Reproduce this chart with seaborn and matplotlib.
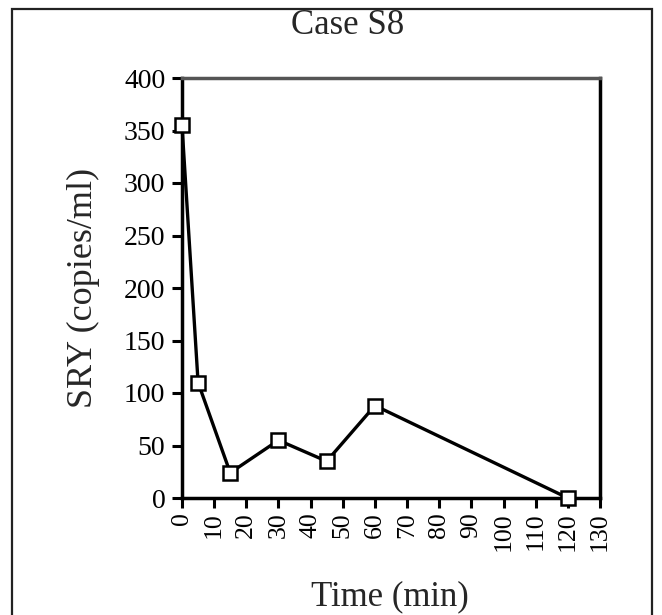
import matplotlib
matplotlib.use("Agg")
import matplotlib.pyplot as plt
import matplotlib.patches as mpatches
import seaborn as sns
import pandas as pd

time_min = [0, 5, 15, 30, 45, 60, 120]
sry_copies = [355, 110, 24, 55, 35, 88, 0]
x_ticks = list(range(0, 131, 10))
y_ticks = list(range(0, 401, 50))

sns.set_style("ticks")
plt.rcParams['font.family'] = ['Liberation Serif', 'DejaVu Serif']

W, H = 662, 615
fig = plt.figure(figsize=(W / 100, H / 100), dpi=100)
ax = fig.add_axes([182 / W, 1 - 498 / H, (600 - 182) / W, (498 - 78) / H])

df = pd.DataFrame({"Time": time_min, "SRY": sry_copies})
sns.lineplot(data=df, x="Time", y="SRY", ax=ax, color="black", linewidth=2.4,
             marker="s", markersize=9.5, markerfacecolor="white",
             markeredgecolor="black", markeredgewidth=1.8, zorder=3, clip_on=False)

ax.set_xlim(0, 130)
ax.set_ylim(0, 400)
ax.set_xticks(x_ticks)
ax.set_yticks(y_ticks)
ax.set_xticklabels([str(v) for v in x_ticks], rotation=90, fontsize=18.5)
ax.set_yticklabels([str(v) for v in y_ticks], fontsize=20)
ax.tick_params(axis="both", direction="out", length=7, width=2.2, colors="black")
ax.tick_params(axis="y", pad=5)
ax.tick_params(axis="x", pad=3)
ax.tick_params(top=False, right=False)
for s in ax.spines.values():
    s.set_visible(True)
    s.set_linewidth(2.5)
    s.set_color("black")
ax.spines["top"].set_color("#555555")
ax.set_xlabel("")
ax.set_ylabel("SRY (copies/ml)", fontsize=26, labelpad=17)

fig.text(348 / W, 1 - 26 / H, "Case S8", ha="center", va="center", fontsize=25)
fig.text(390 / W, 1 - 597 / H, "Time (min)", ha="center", va="center", fontsize=25)

rect = mpatches.Rectangle((12 / W, -0.05), (652 - 12) / W, 1 - 9 / H + 0.05,
                          transform=fig.transFigure, fill=False,
                          edgecolor="#222222", linewidth=1.6)
fig.patches.append(rect)

fig.savefig("out.png", dpi=100)
